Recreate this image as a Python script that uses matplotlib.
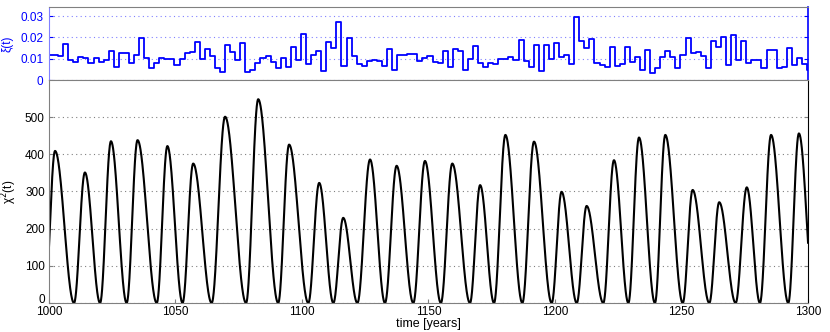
import numpy as np
import matplotlib
matplotlib.use("Agg")
import matplotlib.pyplot as plt
import matplotlib.transforms as mtransforms

plt.rcParams['font.family'] = ['Liberation Sans', 'DejaVu Sans']

# top panel: xi(t), piecewise constant, 2-year steps
xi_first = 0.0118
xi_vals = [
    0.0118, 0.0114, 0.0170, 0.0095, 0.0087, 0.0110, 0.0106, 0.0080, 0.0103, 0.0087,
    0.0095, 0.0138, 0.0064, 0.0129, 0.0129, 0.0080, 0.0118, 0.0196, 0.0103, 0.0059,
    0.0080, 0.0106, 0.0098, 0.0098, 0.0072, 0.0098, 0.0126, 0.0134, 0.0180, 0.0100,
    0.0145, 0.0115, 0.0056, 0.0040, 0.0165, 0.0134, 0.0095, 0.0176, 0.0037, 0.0048,
    0.0080, 0.0106, 0.0115, 0.0087, 0.0059, 0.0103, 0.0064, 0.0157, 0.0095, 0.0215,
    0.0076, 0.0118, 0.0138, 0.0044, 0.0177, 0.0149, 0.0270, 0.0067, 0.0196, 0.0115,
    0.0075, 0.0067, 0.0090, 0.0095, 0.0090, 0.0067, 0.0146, 0.0048, 0.0118, 0.0118,
    0.0123, 0.0123, 0.0090, 0.0103, 0.0115, 0.0087, 0.0080, 0.0138, 0.0061, 0.0145,
    0.0138, 0.0048, 0.0098, 0.0162, 0.0082, 0.0064, 0.0082, 0.0075, 0.0100, 0.0100,
    0.0110, 0.0095, 0.0188, 0.0090, 0.0061, 0.0165, 0.0044, 0.0165, 0.0098, 0.0173,
    0.0110, 0.0118, 0.0076, 0.0297, 0.0184, 0.0152, 0.0191, 0.0080, 0.0072, 0.0064,
    0.0154, 0.0067, 0.0075, 0.0157, 0.0087, 0.0110, 0.0048, 0.0142, 0.0033, 0.0056,
    0.0107, 0.0138, 0.0110, 0.0059, 0.0118, 0.0196, 0.0126, 0.0134, 0.0114, 0.0059,
    0.0185, 0.0154, 0.0204, 0.0072, 0.0212, 0.0095, 0.0184, 0.0080, 0.0095, 0.0095,
    0.0056, 0.0142, 0.0142, 0.0056, 0.0064, 0.0152, 0.0072, 0.0106, 0.0075, 0.0048,
]

# bottom panel: chi^2(t), zeros and peaks
zero_years = [998.3, 1009.9, 1020.2, 1030.7, 1042.6, 1052.8, 1064.3, 1077.9, 1090.6,
              1102.5, 1112.4, 1121.9, 1132.8, 1144.0, 1154.9, 1166.4, 1175.9, 1187.1,
              1198.7, 1208.6, 1219.1, 1229.0, 1239.5, 1250.5, 1261.0, 1271.4, 1281.0,
              1292.2, 1302.5]
peak_years = [1002.4, 1014.2, 1024.5, 1035.0, 1046.8, 1057.0, 1069.6, 1082.7, 1094.9,
              1106.8, 1116.3, 1126.9, 1137.4, 1148.6, 1159.4, 1170.4, 1180.4, 1191.7,
              1202.6, 1212.5, 1223.3, 1233.2, 1243.6, 1254.4, 1264.9, 1275.8, 1285.4,
              1296.4]
peak_vals = [409, 351, 435, 438, 422, 375, 501, 548, 426, 323, 229, 386, 369, 382,
             375, 317, 452, 434, 299, 261, 384, 445, 452, 304, 271, 311, 452, 456]

# step edges for xi
xi_t = np.concatenate([[1000.0], 1001.6 + 2 * np.arange(len(xi_vals)), [1300.0]])
xi_y = np.concatenate([[xi_first], xi_vals, [xi_vals[-1]]])

# smooth chi^2 through the read extrema
knot_t, knot_v = [], []
for i in range(len(peak_years)):
    knot_t += [zero_years[i], peak_years[i]]
    knot_v += [0.0, peak_vals[i]]
knot_t.append(zero_years[-1])
knot_v.append(0.0)
chi_t, chi_v = [], []
for i in range(len(knot_t) - 1):
    s = np.linspace(0, 1, 60)
    chi_t.append(knot_t[i] + (knot_t[i + 1] - knot_t[i]) * s)
    chi_v.append(knot_v[i] + (knot_v[i + 1] - knot_v[i]) * np.sin(np.pi * s / 2) ** 2)
chi_t = np.concatenate(chi_t)
chi_v = np.concatenate(chi_v)

fig = plt.figure(figsize=(8.3, 3.32), dpi=100)
ax1 = fig.add_axes([0.059, 0.758, 0.9145, 0.222])
ax2 = fig.add_axes([0.059, 0.0873, 0.9145, 0.672])

blue = '#0000ff'
grey = '#808080'

# top axes
ax1.step(xi_t, xi_y, where='post', color=blue, lw=1.3)
ax1.set_xlim(1000, 1300)
ax1.set_ylim(0, 0.0344)
ax1.set_yticks([0, 0.01, 0.02, 0.03])
ax1.set_yticklabels(['0', '0.01', '0.02', '0.03'], color=blue, fontsize=8.5)
ax1.set_xticks([])
ax1.yaxis.grid(True, linestyle=(0, (1, 3)), color='#8080ff', lw=0.8)
ax1.set_ylabel('ξ(t)', color=blue, fontsize=8.5, labelpad=5)
ax1.tick_params(axis='y', direction='in', length=3, colors=blue, right=True, pad=4)
for side in ['top', 'bottom']:
    ax1.spines[side].set_color(grey)
ax1.spines['left'].set_color('#8080ff')
ax1.spines['right'].set_color(blue)
ax1.spines['right'].set_linewidth(1.2)
ax1.patch.set_alpha(0)

# bottom axes
ax2.plot(chi_t, chi_v, color='black', lw=1.5)
ax2.set_xlim(1000, 1300)
ax2.set_ylim(0, 600)
ax2.set_yticks([0, 100, 200, 300, 400, 500])
ax2.set_xticks([1000, 1050, 1100, 1150, 1200, 1250, 1300])
ax2.tick_params(labelsize=8.5, direction='in', length=3, colors=grey,
                labelcolor='black', right=True)
ax2.tick_params(axis='x', pad=2)
ax2.tick_params(axis='y', pad=3)
ax2.yaxis.grid(True, linestyle=(0, (1, 3)), color=grey, lw=0.8)
ax2.set_xlabel('time [years]', fontsize=9, labelpad=0)
ax2.set_ylabel('χ$^2$(t)', fontsize=8.5, labelpad=4)
for side in ['top', 'left', 'bottom']:
    ax2.spines[side].set_color(grey)
ax2.spines['right'].set_color('black')

# nudge the bottom "0" up a little so it clears the "1000" below it
zero_lbl = ax2.get_yticklabels()[0]
zero_lbl.set_transform(zero_lbl.get_transform() +
                       mtransforms.ScaledTranslation(0, 3 / 72, fig.dpi_scale_trans))

fig.savefig('out.png', dpi=100)
